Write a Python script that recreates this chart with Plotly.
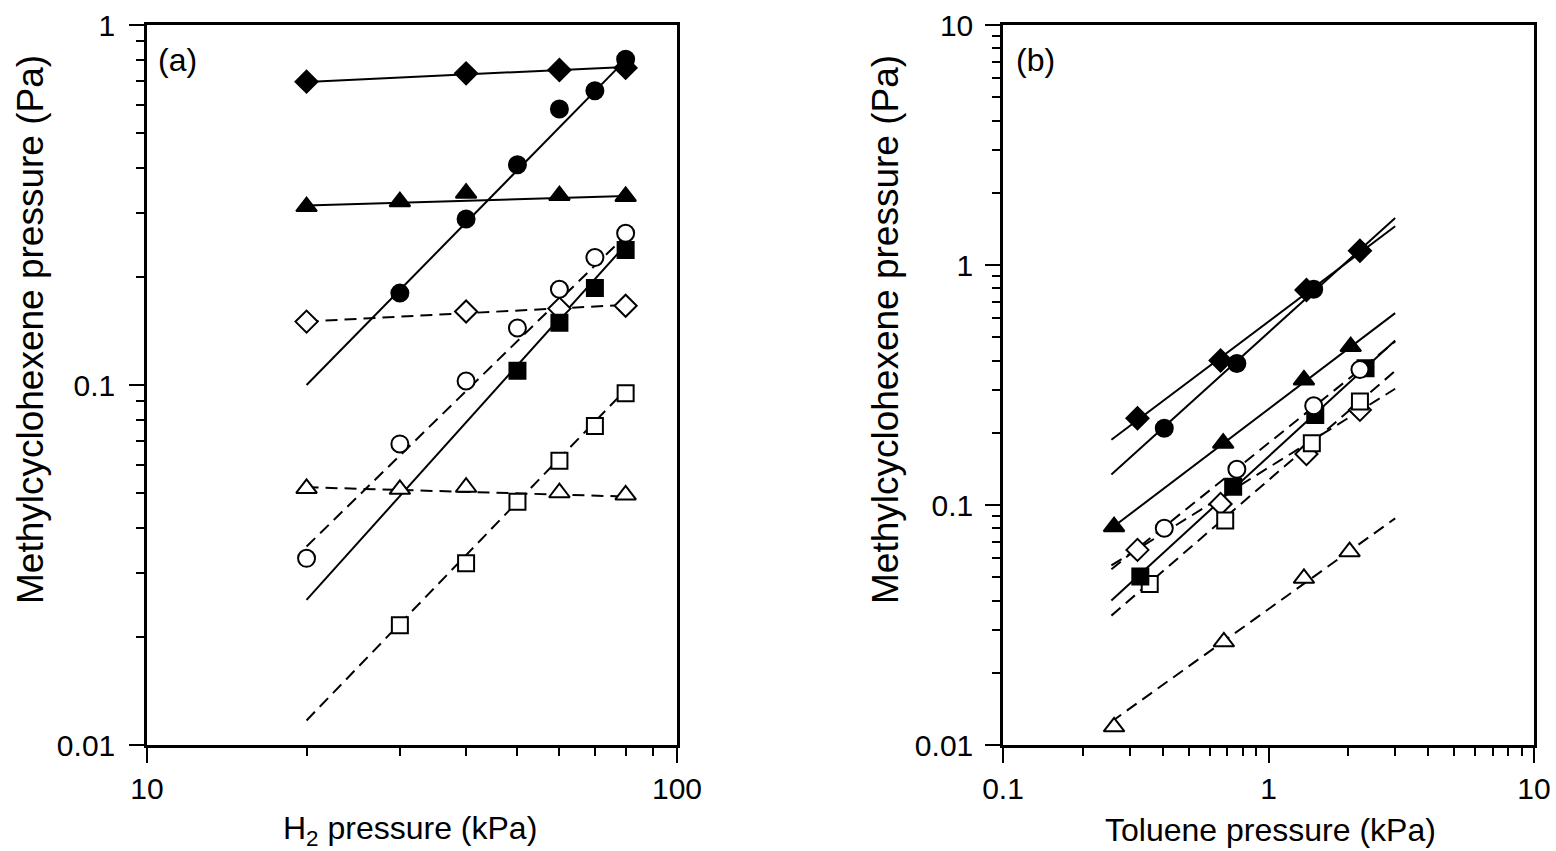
import plotly.graph_objects as go

# ---------------- Panel (a): methylcyclohexene vs H2 pressure ----------------
A_X_DIAMOND = [20, 40, 60, 80]
A_Y_FDIAMOND = [0.696, 0.734, 0.75, 0.76]
A_Y_ODIAMOND = [0.150, 0.160, 0.163, 0.166]
A_X_TRIANGLE = [20, 30, 40, 60, 80]
A_Y_FTRIANGLE = [0.313, 0.323, 0.341, 0.336, 0.334]
A_Y_OTRIANGLE = [0.0516, 0.0513, 0.052, 0.0502, 0.0495]
A_X_FCIRCLE = [30, 40, 50, 60, 70, 80]
A_Y_FCIRCLE = [0.18, 0.289, 0.409, 0.584, 0.657, 0.803]
A_X_OCIRCLE = [20, 30, 40, 50, 60, 70, 80]
A_Y_OCIRCLE = [0.033, 0.0686, 0.1026, 0.144, 0.1845, 0.226, 0.264]
A_X_FSQUARE = [50, 60, 70, 80]
A_Y_FSQUARE = [0.1096, 0.149, 0.186, 0.237]
A_X_OSQUARE = [30, 40, 50, 60, 70, 80]
A_Y_OSQUARE = [0.0215, 0.032, 0.0474, 0.0616, 0.0769, 0.0948]

# fitted lines (end values)
A_FIT_X = [20, 80]
A_FIT_FDIAMOND = [0.695, 0.765]
A_FIT_FCIRCLE = [0.100, 0.800]
A_FIT_FTRIANGLE = [0.315, 0.335]
A_FIT_OCIRCLE = [0.0356, 0.260]
A_FIT_FSQUARE = [0.0253, 0.245]
A_FIT_ODIAMOND = [0.150, 0.167]
A_FIT_OTRIANGLE = [0.052, 0.049]
A_FIT_OSQUARE = [0.0117, 0.097]

# ---------------- Panel (b): methylcyclohexene vs toluene pressure -----------
B_X_FDIAMOND = [0.321, 0.66, 1.39, 2.21]
B_Y_FDIAMOND = [0.23, 0.40, 0.787, 1.147]
B_X_FCIRCLE = [0.405, 0.76, 1.48]
B_Y_FCIRCLE = [0.209, 0.389, 0.792]
B_X_FTRIANGLE = [0.262, 0.675, 1.36, 2.04]
B_Y_FTRIANGLE = [0.0812, 0.181, 0.332, 0.457]
B_X_OCIRCLE = [0.405, 0.76, 1.48, 2.21]
B_Y_OCIRCLE = [0.080, 0.141, 0.259, 0.367]
B_X_FSQUARE = [0.329, 0.736, 1.50, 2.32]
B_Y_FSQUARE = [0.0503, 0.119, 0.237, 0.371]
B_X_ODIAMOND = [0.321, 0.66, 1.39, 2.21]
B_Y_ODIAMOND = [0.065, 0.101, 0.163, 0.249]
B_X_OSQUARE = [0.357, 0.687, 1.456, 2.21]
B_Y_OSQUARE = [0.0469, 0.0861, 0.181, 0.270]
B_X_OTRIANGLE = [0.262, 0.679, 1.36, 2.02]
B_Y_OTRIANGLE = [0.0119, 0.0269, 0.0495, 0.0639]

B_FIT_X = [0.256, 3.0]
B_FIT_FDIAMOND = [0.187, 1.45]
B_FIT_FCIRCLE = [0.134, 1.57]
B_FIT_FTRIANGLE = [0.080, 0.63]
B_FIT_OCIRCLE = [0.054, 0.48]
B_FIT_FSQUARE = [0.040, 0.485]
B_FIT_ODIAMOND = [0.056, 0.305]
B_FIT_OSQUARE = [0.0346, 0.362]
B_FIT_OTRIANGLE = [0.0125, 0.088]

X_TICKS_A = [10, 100]
X_TICKTEXT_A = ["10", "100"]
Y_TICKS_A = [0.01, 0.1, 1]
Y_TICKTEXT_A = ["0.01", "0.1", "1"]
X_TICKS_B = [0.1, 1, 10]
X_TICKTEXT_B = ["0.1", "1", "10"]
Y_TICKS_B = [0.01, 0.1, 1, 10]
Y_TICKTEXT_B = ["0.01", "0.1", "1", "10"]

W, H = 1556, 851
FONT = "Liberation Sans, Arial, sans-serif"
DASH = "12px,7px"
TICKFONT = 30

fig = go.Figure()

def line(x, y, dash, xa, ya):
    fig.add_trace(go.Scatter(x=x, y=y, mode="lines", xaxis=xa, yaxis=ya,
                             line=dict(color="black", width=2, dash=dash),
                             showlegend=False, hoverinfo="skip"))

SIZES = {"diamond": 17, "circle": 17, "square": 16, "triangle-up": 18}

def marks(x, y, symbol, filled, xa, ya):
    fig.add_trace(go.Scatter(x=x, y=y, mode="markers", xaxis=xa, yaxis=ya,
                             marker=dict(symbol=symbol, size=SIZES[symbol],
                                         color="black" if filled else "white",
                                         line=dict(color="black", width=2)),
                             showlegend=False))

# panel (a) lines
line(A_FIT_X, A_FIT_FDIAMOND, "solid", "x", "y")
line(A_FIT_X, A_FIT_FCIRCLE, "solid", "x", "y")
line(A_FIT_X, A_FIT_FTRIANGLE, "solid", "x", "y")
line(A_FIT_X, A_FIT_FSQUARE, "solid", "x", "y")
line(A_FIT_X, A_FIT_OCIRCLE, DASH, "x", "y")
line(A_FIT_X, A_FIT_ODIAMOND, DASH, "x", "y")
line(A_FIT_X, A_FIT_OTRIANGLE, DASH, "x", "y")
line(A_FIT_X, A_FIT_OSQUARE, DASH, "x", "y")
# panel (a) markers
marks(A_X_DIAMOND, A_Y_ODIAMOND, "diamond", False, "x", "y")
marks(A_X_TRIANGLE, A_Y_OTRIANGLE, "triangle-up", False, "x", "y")
marks(A_X_OSQUARE, A_Y_OSQUARE, "square", False, "x", "y")
marks(A_X_OCIRCLE, A_Y_OCIRCLE, "circle", False, "x", "y")
marks(A_X_FSQUARE, A_Y_FSQUARE, "square", True, "x", "y")
marks(A_X_TRIANGLE, A_Y_FTRIANGLE, "triangle-up", True, "x", "y")
marks(A_X_DIAMOND, A_Y_FDIAMOND, "diamond", True, "x", "y")
marks(A_X_FCIRCLE, A_Y_FCIRCLE, "circle", True, "x", "y")

# panel (b) lines
line(B_FIT_X, B_FIT_FDIAMOND, "solid", "x2", "y2")
line(B_FIT_X, B_FIT_FCIRCLE, "solid", "x2", "y2")
line(B_FIT_X, B_FIT_FTRIANGLE, "solid", "x2", "y2")
line(B_FIT_X, B_FIT_FSQUARE, "solid", "x2", "y2")
line(B_FIT_X, B_FIT_OCIRCLE, DASH, "x2", "y2")
line(B_FIT_X, B_FIT_ODIAMOND, DASH, "x2", "y2")
line(B_FIT_X, B_FIT_OSQUARE, DASH, "x2", "y2")
line(B_FIT_X, B_FIT_OTRIANGLE, DASH, "x2", "y2")
# panel (b) markers
marks(B_X_OTRIANGLE, B_Y_OTRIANGLE, "triangle-up", False, "x2", "y2")
marks(B_X_ODIAMOND, B_Y_ODIAMOND, "diamond", False, "x2", "y2")
marks(B_X_OSQUARE, B_Y_OSQUARE, "square", False, "x2", "y2")
marks(B_X_FSQUARE, B_Y_FSQUARE, "square", True, "x2", "y2")
marks(B_X_OCIRCLE, B_Y_OCIRCLE, "circle", False, "x2", "y2")
marks(B_X_FTRIANGLE, B_Y_FTRIANGLE, "triangle-up", True, "x2", "y2")
marks(B_X_FCIRCLE, B_Y_FCIRCLE, "circle", True, "x2", "y2")
marks(B_X_FDIAMOND, B_Y_FDIAMOND, "diamond", True, "x2", "y2")

# layout geometry (pixels -> paper)
AX0, AX1 = 147, 677
BX0, BX1 = 1003, 1534
PY0, PY1 = 25, 745
dom_y = [1 - PY1 / H, 1 - PY0 / H]

def common(rng, tv, tt, anchor, standoff):
    return dict(type="log", range=rng, anchor=anchor,
                tickvals=tv, ticktext=tt, ticks="outside", ticklen=15, tickwidth=2,
                tickcolor="black", showline=True, linecolor="black", linewidth=2.5,
                mirror=True, showgrid=False, zeroline=False, automargin=False,
                ticklabelstandoff=standoff,
                tickfont=dict(family=FONT, size=TICKFONT, color="black"),
                minor=dict(ticks="outside", ticklen=8, tickwidth=2, tickcolor="black",
                           dtick="D1", showgrid=False))

fig.update_layout(
    width=W, height=H, margin=dict(l=0, r=0, t=0, b=0),
    paper_bgcolor="white", plot_bgcolor="white",
    xaxis=dict(domain=[AX0 / W, AX1 / W], **common([1, 2], X_TICKS_A, X_TICKTEXT_A, "y", 0)),
    yaxis=dict(domain=dom_y, **common([-2, 0], Y_TICKS_A, Y_TICKTEXT_A, "x", 8)),
    xaxis2=dict(domain=[BX0 / W, BX1 / W], **common([-1, 1], X_TICKS_B, X_TICKTEXT_B, "y2", 0)),
    yaxis2=dict(domain=dom_y, **common([-2, 1], Y_TICKS_B, Y_TICKTEXT_B, "x2", 6)),
    font=dict(family=FONT, size=TICKFONT, color="black"),
)

def ann(text, xpx, ypx, angle=0, size=32):
    fig.add_annotation(text=text, x=xpx / W, y=1 - ypx / H, xref="paper", yref="paper",
                       showarrow=False, textangle=angle, xanchor="center", yanchor="middle",
                       font=dict(family=FONT, size=size, color="black"))

ann("Methylcyclohexene pressure (Pa)", 30, 330, -90, 37)
ann("Methylcyclohexene pressure (Pa)", 885, 330, -90, 37)
ann("H<sub>2</sub> pressure (kPa)", 410, 830)
ann("Toluene pressure (kPa)", 1270, 830)
ann("(a)", 177, 60)
ann("(b)", 1035, 60)

fig.write_html("out.html", config={"displayModeBar": False},
               post_script="document.body.style.margin='0';document.body.style.overflow='hidden';")
